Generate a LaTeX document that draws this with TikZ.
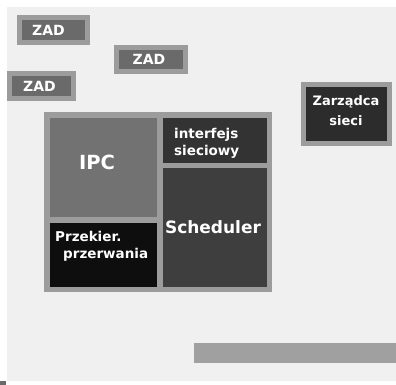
\documentclass[tikz,border=0pt]{standalone}
\usepackage{fontspec}
\setmainfont{DejaVu Sans}
\usepackage{xcolor}
\usepackage{tikz}

\definecolor{tloGray}{HTML}{F0F0F0}
\definecolor{ramkaGray}{HTML}{9C9C9C}
\definecolor{zadGray}{HTML}{6A6A6A}
\definecolor{ipcGray}{HTML}{727272}
\definecolor{przekGray}{HTML}{0E0E0E}
\definecolor{interGray}{HTML}{333333}
\definecolor{schedGray}{HTML}{3E3E3E}
\definecolor{zarzGray}{HTML}{2C2C2C}
\definecolor{pasekGray}{HTML}{A0A0A0}

\tikzset{
  zad/.style={fill=zadGray,draw=ramkaGray,line width=5pt,inner sep=0pt,
    minimum width=68pt,minimum height=25pt,text=white,
    font=\bfseries\fontsize{14}{16}\selectfont},
  cell/.style={inner sep=0pt},
  napis/.style={inner sep=0pt,text=white,
    font=\bfseries\fontsize{13.5}{17}\selectfont}
}

\begin{document}
\begin{tikzpicture}[x=1pt,y=-1pt]
\useasboundingbox (0,0) rectangle (396,385);
\fill[white] (0,0) rectangle (396,385);
\fill[tloGray] (7,7) rectangle (396,381);
\fill[zadGray] (0,381) rectangle (6,385);

% zadania
\node[zad] (zad1) at (53.5,30.5) {ZAD\hspace*{10pt}};
\node[zad,minimum width=69pt,minimum height=24pt] (zad2) at (151,59.5) {ZAD\hspace*{4pt}};
\node[zad,minimum width=64pt] (zad3) at (41.5,86) {ZAD\hspace*{4pt}};

\node[zad,fill=zarzGray,minimum width=86pt,minimum height=59pt] (zarz) at (346.5,114) {};
\node[napis,align=center,font=\bfseries\fontsize{13}{20}\selectfont] (zarzT) at (346,110.5)
  {Zarządca\\sieci};

% jadro
\node[cell,fill=ramkaGray,minimum width=228pt,minimum height=180pt] (jadro) at (158,202) {};
\node[cell,fill=ipcGray,minimum width=107pt,minimum height=99pt] (ipc) at (103.5,167.5) {};
\node[cell,fill=przekGray,minimum width=107pt,minimum height=64pt] (przek) at (103.5,255) {};
\node[cell,fill=interGray,minimum width=104pt,minimum height=45pt] (inter) at (215,140.5) {};
\node[cell,fill=schedGray,minimum width=104pt,minimum height=119pt] (sched) at (215,227.5) {};

\node[napis,font=\bfseries\fontsize{19.5}{22}\selectfont] (ipcT) at (97,162) {IPC};
\node[napis,anchor=west,align=left] (przekT) at (55,246.5)
  {Przekier.\\\hspace*{8pt}przerwania};
\node[napis,anchor=west,align=left] (interT) at (174,143.5) {interfejs\\sieciowy};
\node[napis,font=\bfseries\fontsize{17}{20}\selectfont] (schedT) at (213,227) {Scheduler};

\fill[pasekGray] (194,343) rectangle (396,363);
\end{tikzpicture}
\end{document}
